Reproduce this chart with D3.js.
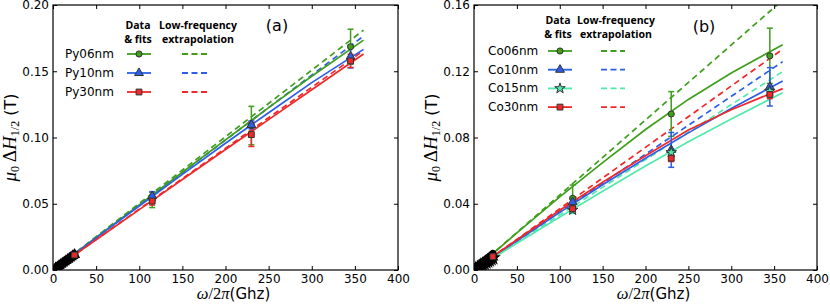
<!DOCTYPE html>
<html>
<head>
<meta charset="utf-8">
<script src="https://cdn.jsdelivr.net/npm/d3@7"></script>
<style>
  body { margin: 0; background: #fff; }
  svg { display: block; }
</style>
</head>
<body>
<svg id="chart"></svg>
<script>
// ---- data ----
const xTicks = [0, 50, 100, 150, 200, 250, 300, 350, 400];
const yTicksA = [0, 0.05, 0.10, 0.15, 0.20];
const yTicksB = [0, 0.04, 0.08, 0.12, 0.16];

const fitFreq = [0, 25, 50, 100, 150, 200, 250, 300, 360];
const extFreq = [0, 360];
const lowFreqA = [3, 5, 7, 9, 11, 13, 15, 17, 19, 21, 23, 25];
const lowFreqB = [2, 4, 6, 8, 10, 12, 14, 16, 18, 20, 22];
const highFreq = [115, 230, 345];

// panel (a) permalloy
const py06Fit = [0, 0.0123, 0.0246, 0.0492, 0.0738, 0.0982, 0.1225, 0.1462, 0.1735];
const py10Fit = [0, 0.0121, 0.0242, 0.0483, 0.0722, 0.0957, 0.1187, 0.1414, 0.1665];
const py30Fit = [0, 0.0114, 0.0228, 0.0456, 0.0683, 0.0909, 0.1135, 0.1360, 0.1630];
const py06Ext = [0, 0.181];
const py10Ext = [0, 0.1765];
const py30Ext = [0, 0.1655];
const py06Low = [0.0014, 0.0024, 0.0033, 0.0043, 0.0052, 0.0062, 0.0071, 0.0081, 0.0090, 0.0100, 0.0109, 0.0119];
const py10Low = [0.0014, 0.0023, 0.0033, 0.0042, 0.0051, 0.0061, 0.0070, 0.0079, 0.0089, 0.0098, 0.0107, 0.0116];
const py30Low = [0.0013, 0.0022, 0.0031, 0.0040, 0.0049, 0.0058, 0.0067, 0.0076, 0.0085, 0.0094, 0.0103, 0.0113];
const py06High = [0.0528, 0.1090, 0.1685];
const py10High = [0.0558, 0.1095, 0.1610];
const py30High = [0.0520, 0.1022, 0.1578];
const py06Err = [0.0057, 0.0145, 0.0132];
const py10Err = [0.0033, 0.0030, 0.0085];
const py30Err = [0.0030, 0.0090, 0.0050];

// panel (b) cobalt
const co06Fit = [0, 0.0112, 0.0224, 0.0442, 0.0648, 0.0848, 0.1030, 0.1190, 0.1360];
const co10Fit = [0, 0.0088, 0.0175, 0.0348, 0.0515, 0.0675, 0.0828, 0.0975, 0.1141];
const co15Fit = [0, 0.0081, 0.0161, 0.0320, 0.0475, 0.0628, 0.0775, 0.0912, 0.1070];
const co30Fit = [0, 0.0092, 0.0183, 0.0361, 0.0530, 0.0690, 0.0845, 0.0968, 0.1095];
const co06Ext = [0, 0.1630];
const co10Ext = [0, 0.1258];
const co15Ext = [0, 0.1198];
const co30Ext = [0, 0.1333];
const co06Low = [0.0009, 0.0018, 0.0027, 0.0036, 0.0045, 0.0054, 0.0063, 0.0072, 0.0081, 0.0090, 0.0099];
const co10Low = [0.0007, 0.0014, 0.0021, 0.0028, 0.0035, 0.0042, 0.0049, 0.0056, 0.0063, 0.0070, 0.0077];
const co15Low = [0.0007, 0.0013, 0.0020, 0.0027, 0.0033, 0.0040, 0.0047, 0.0053, 0.0060, 0.0067, 0.0073];
const co30Low = [0.0007, 0.0015, 0.0022, 0.0030, 0.0037, 0.0044, 0.0052, 0.0059, 0.0067, 0.0074, 0.0081];
const co06High = [0.0433, 0.0942, 0.1293];
const co10High = [0.0410, 0.0725, 0.1106];
const co15High = [0.0362, 0.0710, 0.1080];
const co30High = [0.0370, 0.0675, 0.1060];
const co06Err = [0.0080, 0.0135, 0.0167];
const co10Err = [0.0020, 0.0105, 0.0116];
const co15Err = [0.0020, 0.0020, 0.0020];
const co30Err = [0.0020, 0.0020, 0.0025];

const GREEN = '#3f9e1c', BLUE = '#2c5ee8', RED = '#f02828', AQUA = '#52e8aa';

const panels = [
  {
    id: 'a', label: '(a)', yMax: 0.2, yTicks: yTicksA, left: 53, right: 398,
    yFormat: d3.format('.2f'), lowFreq: lowFreqA,
    labelPos: [277, 31], head1: [138, 29], head2: [198, 29], rowY: 54, rowGap: 19,
    nameX: 65, solidX: [127, 151], dashX: [182, 207],
    series: [
      { name: 'Py06nm', color: GREEN, symbol: d3.symbolCircle, fit: py06Fit, ext: py06Ext, low: py06Low, high: py06High, err: py06Err },
      { name: 'Py10nm', color: BLUE, symbol: d3.symbolTriangle, fit: py10Fit, ext: py10Ext, low: py10Low, high: py10High, err: py10Err },
      { name: 'Py30nm', color: RED, symbol: d3.symbolSquare, fit: py30Fit, ext: py30Ext, low: py30Low, high: py30High, err: py30Err }
    ]
  },
  {
    id: 'b', label: '(b)', yMax: 0.16, yTicks: yTicksB, left: 474, right: 817,
    yFormat: d3.format('.2f'), lowFreq: lowFreqB,
    labelPos: [704, 32], head1: [558, 24], head2: [616, 24], rowY: 51, rowGap: 18.7,
    nameX: 488, solidX: [548, 572], dashX: [601, 625],
    series: [
      { name: 'Co06nm', color: GREEN, symbol: d3.symbolCircle, fit: co06Fit, ext: co06Ext, low: co06Low, high: co06High, err: co06Err },
      { name: 'Co10nm', color: BLUE, symbol: d3.symbolTriangle, fit: co10Fit, ext: co10Ext, low: co10Low, high: co10High, err: co10Err },
      { name: 'Co15nm', color: AQUA, symbol: d3.symbolStar, fit: co15Fit, ext: co15Ext, low: co15Low, high: co15High, err: co15Err },
      { name: 'Co30nm', color: RED, symbol: d3.symbolSquare, fit: co30Fit, ext: co30Ext, low: co30Low, high: co30High, err: co30Err }
    ]
  }
];

const TOP = 5, BOTTOM = 270;
const sansFont = '"DejaVu Sans", sans-serif';
const headFont = '"Open Sans", "DejaVu Sans", sans-serif';
const mathFont = '"Liberation Serif", "DejaVu Serif", serif';
const symSize = { circle: 30, other: 34 };

const svg = d3.select('#chart')
  .attr('width', 830)
  .attr('height', 305)
  .style('background-color', 'white');

panels.forEach(p => {
  const x = d3.scaleLinear().domain([0, 400]).range([p.left, p.right]);
  const y = d3.scaleLinear().domain([0, p.yMax]).range([BOTTOM, TOP]);
  const g = svg.append('g').attr('class', 'panel-' + p.id);

  g.append('clipPath').attr('id', 'clip-' + p.id)
    .append('rect')
    .attr('x', p.left).attr('y', TOP)
    .attr('width', p.right - p.left).attr('height', BOTTOM - TOP);

  const plot = g.append('g').attr('clip-path', `url(#clip-${p.id})`);
  const line = d3.line().x(d => x(d[0])).y(d => y(d[1]));

  // low-frequency extrapolation (dashed)
  p.series.forEach(s => {
    plot.append('path')
      .datum(extFreq.map((f, i) => [f, s.ext[i]]))
      .attr('d', line)
      .attr('fill', 'none')
      .attr('stroke', s.color)
      .attr('stroke-width', 1.7)
      .attr('stroke-dasharray', '6,4');
  });

  // fits (solid)
  p.series.forEach(s => {
    plot.append('path')
      .datum(fitFreq.map((f, i) => [f, s.fit[i]]))
      .attr('d', line)
      .attr('fill', 'none')
      .attr('stroke', s.color)
      .attr('stroke-width', 1.7);
  });

  // error bars
  p.series.forEach(s => {
    const eb = plot.append('g').attr('stroke', s.color).attr('stroke-width', 1.5);
    highFreq.forEach((f, i) => {
      const lo = y(s.high[i] - s.err[i]), hi = y(s.high[i] + s.err[i]), cx = x(f);
      eb.append('line').attr('x1', cx).attr('x2', cx).attr('y1', lo).attr('y2', hi);
      eb.append('line').attr('x1', cx - 3).attr('x2', cx + 3).attr('y1', lo).attr('y2', lo);
      eb.append('line').attr('x1', cx - 3).attr('x2', cx + 3).attr('y1', hi).attr('y2', hi);
    });
  });

  // markers: dense low-frequency points (black edged) and the three high-frequency points
  p.series.forEach(s => {
    plot.append('g')
      .selectAll('path.low')
      .data(p.lowFreq.map((f, i) => [f, s.low[i]]))
      .enter()
      .append('path')
      .attr('transform', d => `translate(${x(d[0])},${y(d[1])})`)
      .attr('d', d3.symbol().type(s.symbol).size(20))
      .attr('fill', s.color)
      .attr('stroke', '#000')
      .attr('stroke-width', 2.6);
  });
  p.series.forEach(s => {
    const size = s.symbol === d3.symbolCircle ? symSize.circle : symSize.other;
    plot.append('g')
      .selectAll('path.high')
      .data(highFreq.map((f, i) => [f, s.high[i]]))
      .enter()
      .append('path')
      .attr('transform', d => `translate(${x(d[0])},${y(d[1])})`)
      .attr('d', d3.symbol().type(s.symbol).size(size))
      .attr('fill', s.color)
      .attr('stroke', '#333')
      .attr('stroke-width', 1);
  });
  // last low point of the red series sits on top of the blob, as in the figure
  const lastS = p.series[p.series.length - 1];
  const li = p.lowFreq.length - 1;
  plot.append('path')
    .attr('transform', `translate(${x(p.lowFreq[li])},${y(lastS.low[li])})`)
    .attr('d', d3.symbol().type(lastS.symbol).size(symSize.other))
    .attr('fill', lastS.color).attr('stroke', '#333').attr('stroke-width', 1);

  // axes, ticks pointing inward on all four sides
  const styleAxis = sel => {
    sel.select('.domain').remove();
    sel.selectAll('line').attr('stroke', '#000');
    sel.selectAll('text').attr('font-family', sansFont).attr('font-size', 12).attr('fill', '#000');
  };
  g.append('g').attr('transform', `translate(0,${BOTTOM})`)
    .call(d3.axisBottom(x).tickValues(xTicks).tickSizeInner(-4).tickSizeOuter(0).tickPadding(4))
    .call(styleAxis);
  g.append('g').attr('transform', `translate(0,${TOP})`)
    .call(d3.axisTop(x).tickValues(xTicks).tickSizeInner(-4).tickSizeOuter(0).tickFormat(''))
    .call(styleAxis);
  g.append('g').attr('transform', `translate(${p.left},0)`)
    .call(d3.axisLeft(y).tickValues(p.yTicks).tickSizeInner(-4).tickSizeOuter(0).tickPadding(4).tickFormat(p.yFormat))
    .call(styleAxis);
  g.append('g').attr('transform', `translate(${p.right},0)`)
    .call(d3.axisRight(y).tickValues(p.yTicks).tickSizeInner(-4).tickSizeOuter(0).tickFormat(''))
    .call(styleAxis);

  g.append('rect')
    .attr('x', p.left).attr('y', TOP)
    .attr('width', p.right - p.left).attr('height', BOTTOM - TOP)
    .attr('fill', 'none').attr('stroke', '#000').attr('stroke-width', 1.2);

  // panel tag
  g.append('text')
    .attr('x', p.labelPos[0]).attr('y', p.labelPos[1])
    .attr('text-anchor', 'middle')
    .attr('font-family', sansFont).attr('font-size', 16)
    .text(p.label);

  // legend headers
  const head = (pos, l1, l2) => {
    const t = g.append('text')
      .attr('font-family', headFont).attr('font-size', 10.5).attr('font-weight', 'bold')
      .attr('text-anchor', 'middle');
    t.append('tspan').attr('x', pos[0]).attr('y', pos[1]).text(l1);
    t.append('tspan').attr('x', pos[0]).attr('y', pos[1] + 14).text(l2);
  };
  head(p.head1, 'Data', '& fits');
  head(p.head2, 'Low-frequency', 'extrapolation');

  // legend rows
  p.series.forEach((s, i) => {
    const ry = p.rowY + i * p.rowGap;
    g.append('text')
      .attr('x', p.nameX).attr('y', ry + 4)
      .attr('font-family', sansFont).attr('font-size', 12)
      .text(s.name);
    g.append('line')
      .attr('x1', p.solidX[0]).attr('x2', p.solidX[1]).attr('y1', ry).attr('y2', ry)
      .attr('stroke', s.color).attr('stroke-width', 1.8);
    const size = s.symbol === d3.symbolCircle ? symSize.circle : symSize.other;
    g.append('path')
      .attr('transform', `translate(${(p.solidX[0] + p.solidX[1]) / 2},${ry})`)
      .attr('d', d3.symbol().type(s.symbol).size(size))
      .attr('fill', s.color).attr('stroke', '#333').attr('stroke-width', 1);
    g.append('line')
      .attr('x1', p.dashX[0]).attr('x2', p.dashX[1]).attr('y1', ry).attr('y2', ry)
      .attr('stroke', s.color).attr('stroke-width', 1.8)
      .attr('stroke-dasharray', '6,3.5');
  });

  // axis titles
  const cx = (p.left + p.right) / 2;
  const xl = g.append('text')
    .attr('x', cx + 8).attr('y', 299)
    .attr('text-anchor', 'middle').attr('font-size', 16.5);
  xl.append('tspan').attr('font-family', mathFont).attr('font-style', 'italic').text('ω');
  xl.append('tspan').attr('font-family', mathFont).text('/2');
  xl.append('tspan').attr('font-family', mathFont).attr('font-style', 'italic').text('π');
  xl.append('tspan').attr('font-family', sansFont).attr('font-size', 15).text('(Ghz)');

  const yl = g.append('text')
    .attr('transform', `translate(${p.left - 37},${(TOP + BOTTOM) / 2}) rotate(-90)`)
    .attr('text-anchor', 'middle').attr('font-size', 19).attr('font-family', mathFont);
  yl.append('tspan').attr('font-style', 'italic').text('μ');
  yl.append('tspan').attr('font-size', 12).attr('dy', 3).text('0');
  yl.append('tspan').attr('dy', -3).text('\u2009Δ');
  yl.append('tspan').attr('font-style', 'italic').text('H');
  yl.append('tspan').attr('font-size', 12).attr('dy', 3).text('1/2');
  yl.append('tspan').attr('dy', -3).attr('font-family', sansFont).attr('font-size', 16).text(' (T)');
});
</script>
</body>
</html>
